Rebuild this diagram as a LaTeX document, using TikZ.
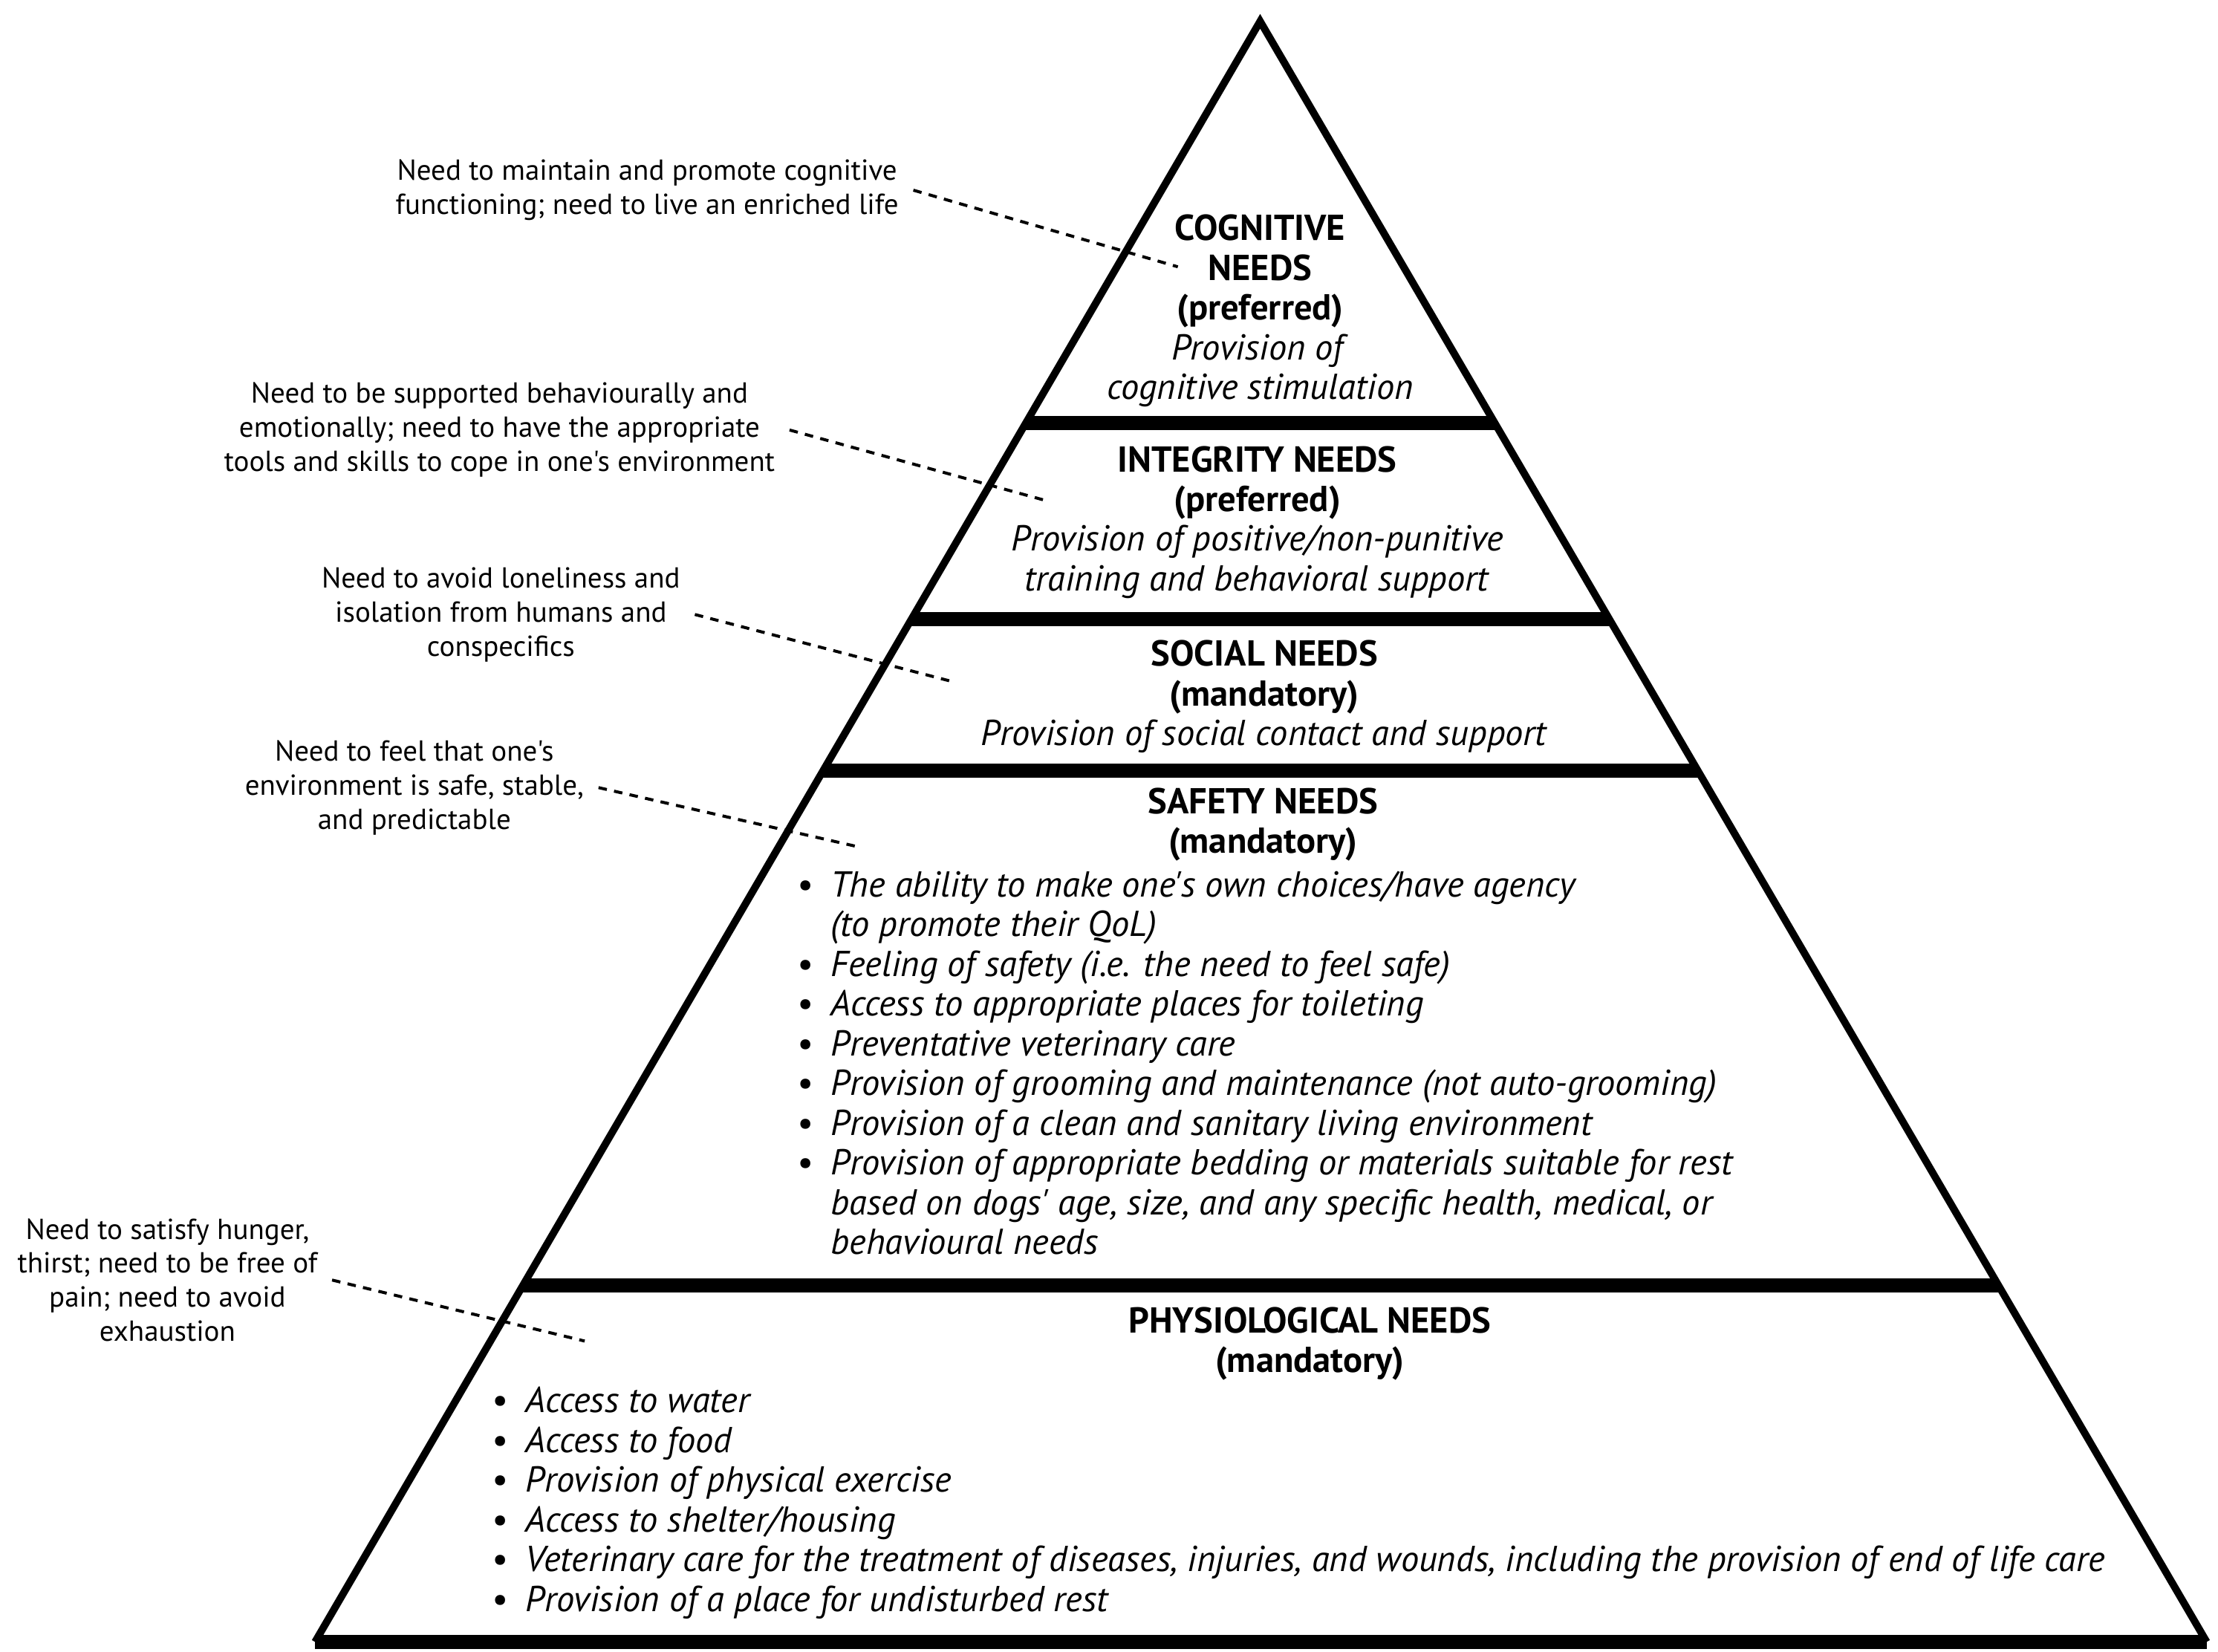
\documentclass[tikz,border=0pt]{standalone}
\usepackage{fontspec}
\newfontfamily\ptsans{PT Sans}
\usetikzlibrary{positioning, calc}

\newcommand{\tierfont}{\ptsans\fontsize{12.7}{14}\selectfont}
\newcommand{\notefont}{\ptsans\fontsize{10.2}{12}\selectfont}
\newcommand{\bul}{\makebox[12pt][l]{\textbullet}}
\newcommand{\cont}{\hspace*{12pt}}

\tikzset{
  tier/.style={align=center, font=\tierfont, inner sep=0pt},
  tierlist/.style={align=left, font=\tierfont\itshape, inner sep=0pt, anchor=west},
  note/.style={align=center, font=\notefont, inner sep=5pt},
  leader/.style={line width=1.05pt, dash pattern=on 3pt off 2.6pt},
  wall/.style={line width=2.6pt, line join=miter},
  shelf/.style={line width=5pt},
}

\begin{document}
\begin{tikzpicture}[x=0.5pt, y=-0.5pt]
  \useasboundingbox (0,0) rectangle (1563,1164);

  % pyramid outline
  \coordinate (top) at (888,15);
  \coordinate (bl) at (222,1157);
  \coordinate (br) at (1555,1157);
  \draw[wall] (bl) -- (top) -- (br);
  \draw[shelf] (bl) -- (br);

  % shelves between tiers
  \foreach \t in {0.2478, 0.3687, 0.4624, 0.7802}
    \draw[shelf] ($(top)!\t!(bl)$) -- ($(top)!\t!(br)$);

  % tiers
  \node[tier] (cog) at (888,219) {\textbf{COGNITIVE}\\\textbf{NEEDS}\\\textbf{(preferred)}\\
    \textit{Provision of}\\\textit{cognitive stimulation}};
  \node[tier] (int) at (886,368) {\textbf{INTEGRITY NEEDS}\\\textbf{(preferred)}\\
    \textit{Provision of positive/non-punitive}\\\textit{training and behavioral support}};
  \node[tier] (soc) at (891,491) {\textbf{SOCIAL NEEDS}\\\textbf{(mandatory)}\\
    \textit{Provision of social contact and support}};
  \node[tier] (saf) at (890,581) {\textbf{SAFETY NEEDS}\\\textbf{(mandatory)}};
  \node[tierlist] (saflist) at (561,749) {%
    \bul The ability to make one's own choices/have agency\\
    \cont (to promote their QoL)\\
    \bul Feeling of safety (i.e. the need to feel safe)\\
    \bul Access to appropriate places for toileting\\
    \bul Preventative veterinary care\\
    \bul Provision of grooming and maintenance (not auto-grooming)\\
    \bul Provision of a clean and sanitary living environment\\
    \bul Provision of appropriate bedding or materials suitable for rest\\
    \cont based on dogs' age, size, and any specific health, medical, or\\
    \cont behavioural needs};
  \node[tier] (phy) at (923,947) {\textbf{PHYSIOLOGICAL NEEDS}\\\textbf{(mandatory)}};
  \node[tierlist] (phylist) at (346,1059) {%
    \bul Access to water\\
    \bul Access to food\\
    \bul Provision of physical exercise\\
    \bul Access to shelter/housing\\
    \bul Veterinary care for the treatment of diseases, injuries, and wounds, including the provision of end of life care\\
    \bul Provision of a place for undisturbed rest};

  % notes on the left
  \node[note] (cognote) at (456,134) {Need to maintain and promote cognitive\\functioning; need to live an enriched life};
  \node[note] (intnote) at (352,303) {Need to be supported behaviourally and\\emotionally; need to have the appropriate\\tools and skills to cope in one's environment};
  \node[note] (socnote) at (353,433) {Need to avoid loneliness and\\isolation from humans and\\conspecifics};
  \node[note] (safnote) at (292,555) {Need to feel that one's\\environment is safe, stable,\\and predictable};
  \node[note] (phynote) at (118,902) {Need to satisfy hunger,\\thirst; need to be free of\\pain; need to avoid\\exhaustion};

  \coordinate (cogtip) at (830,188);
  \coordinate (inttip) at (738,353);
  \coordinate (soctip) at (670,480);
  \coordinate (saftip) at (606,597);
  \coordinate (phytip) at (412,945);

  \draw[leader] (cognote.east) -- (cogtip);
  \draw[leader] (intnote.east) -- (inttip);
  \draw[leader] (socnote.east) -- (soctip);
  \draw[leader] (safnote.east) -- (saftip);
  \draw[leader] (phynote.east) -- (phytip);
\end{tikzpicture}
\end{document}
